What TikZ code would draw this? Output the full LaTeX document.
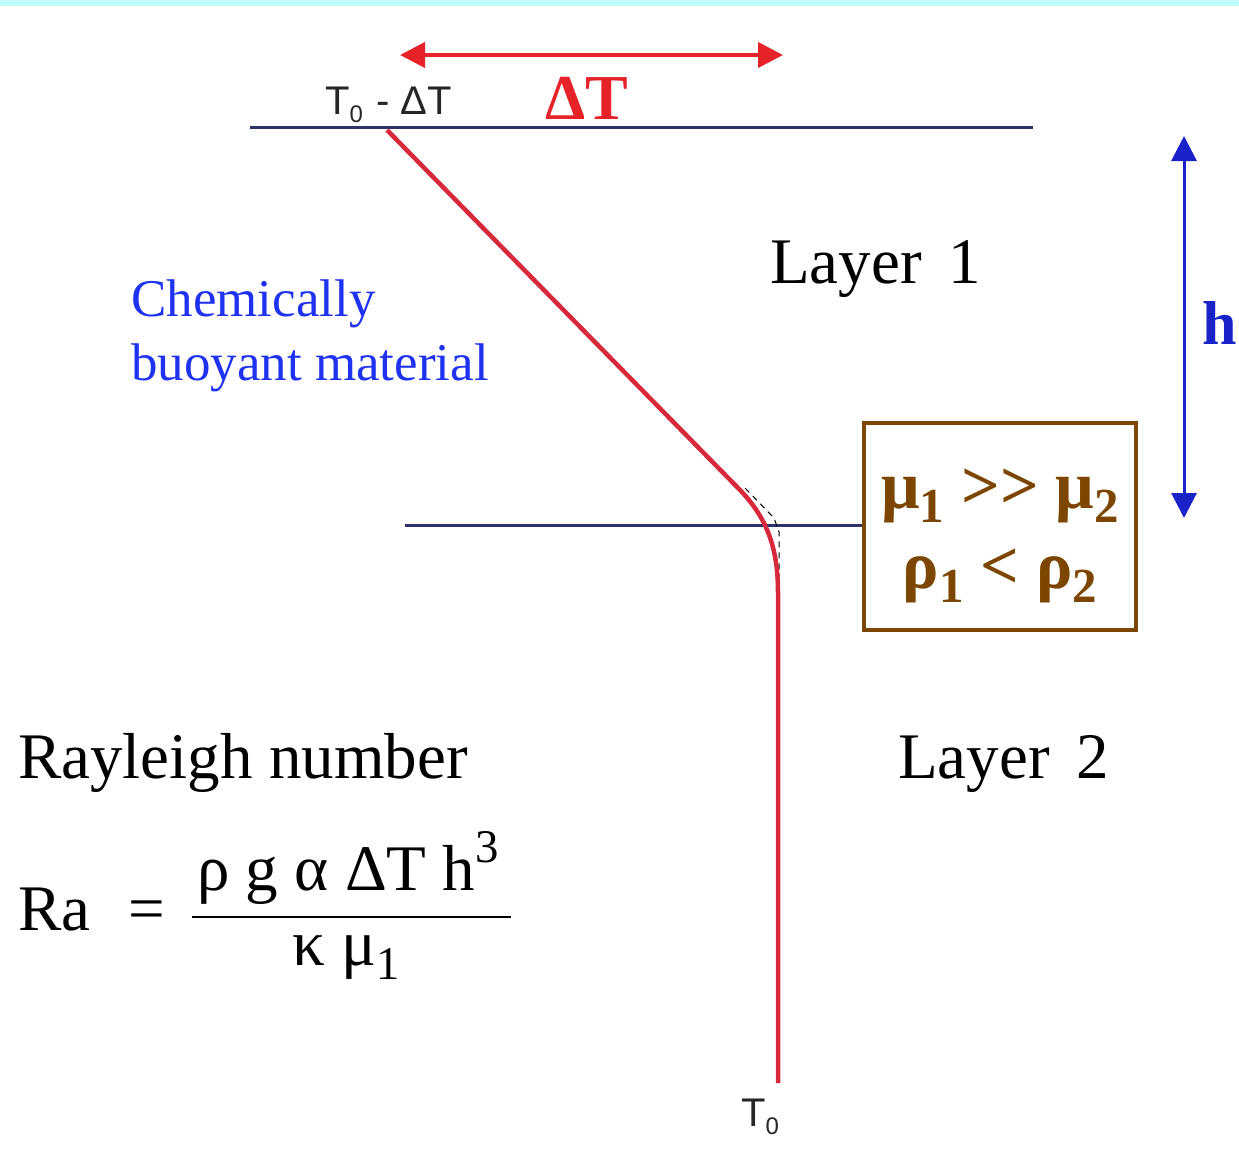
\documentclass[tikz,border=0pt]{standalone}
\usepackage{fontspec}
\setmainfont{Liberation Serif}
\setsansfont{Liberation Sans}
\usepackage{xcolor}
\usetikzlibrary{arrows.meta,positioning}
\definecolor{topband}{RGB}{190,255,255}
\definecolor{boundary}{RGB}{45,50,105}
\definecolor{geotherm}{RGB}{215,40,60}
\definecolor{deltared}{RGB}{230,35,40}
\definecolor{chemblue}{RGB}{30,50,240}
\definecolor{hblue}{RGB}{25,35,200}
\definecolor{visbrown}{RGB}{125,70,0}
\newcommand\lowidx[1]{\raisebox{-0.22em}{\scalebox{0.72}{#1}}}
\newcommand\upidx[1]{\raisebox{0.42em}{\scalebox{0.72}{#1}}}
\newcommand\tidx[1]{\raisebox{-0.2em}{\scalebox{0.6}{#1}}}

\begin{document}
\begin{tikzpicture}[x=1pt, y=-1pt,
    bigtext/.style={font=\fontsize{65}{72}\selectfont, inner sep=0pt, anchor=base west},
    smalltext/.style={font=\sffamily\fontsize{40}{44}\selectfont, inner sep=0pt, anchor=base west, text=black!85},
    boxtext/.style={text=visbrown, font=\bfseries\fontsize{68}{80}\selectfont, inner sep=0pt, anchor=base},
    interface/.style={draw=boundary, line width=3pt},
    dimarrow/.style={{Triangle[length=25pt, width=25pt]}-{Triangle[length=25pt, width=25pt]}}
]
\useasboundingbox (0,0) rectangle (1239,1153);
\fill[topband] (0,0) rectangle (1239,6);

% layer boundaries
\coordinate (top w) at (250,128);
\coordinate (top e) at (1033,128);
\coordinate (mid w) at (405,525);
\draw[interface] (top w) -- (top e);

% viscosity box
\node[draw=visbrown, line width=4pt, minimum width=272pt, minimum height=207pt, inner sep=0pt] (visc) at (1000,526.5) {};
\node[boxtext] (mu) at (1000,508) {μ\lowidx{1} {>}{>} μ\lowidx{2}};
\node[boxtext] (rho) at (1000,588) {ρ\lowidx{1} < ρ\lowidx{2}};
\draw[interface] (mid w) -- (mid w -| visc.west);

% temperature profile
\coordinate (tsurf) at (387,130);
\coordinate (tkink) at (740,490);
\coordinate (tbase) at (778,1083);
\draw[black, line width=1pt, dash pattern=on 6pt off 5pt] (745,488) -- (774,518) -- (779,532) -- (779,598);
\draw[geotherm, line width=4.5pt] (tsurf) -- (tkink)
    .. controls (765,516) and (778,545) .. (778,592) -- (tbase);

\node[smalltext] (tlabel) at (325,115) {T\tidx{0}\,\,- ΔT};
\node[smalltext, below=16pt of tbase, anchor=north, xshift=-18pt] (t0) {T\tidx{0}};

% temperature contrast
\coordinate (dt w) at (400,55);
\coordinate (dt e) at (783,55);
\draw[dimarrow, draw=deltared, fill=deltared, line width=4pt] (dt w) -- (dt e);
\node[text=deltared, font=\bfseries\fontsize{64}{70}\selectfont, inner sep=0pt, anchor=base] (dt) at (587,120) {ΔT};

% layer thickness
\coordinate (h top) at (1184,136);
\coordinate (h bot) at (1184,518);
\draw[dimarrow, draw=hblue, fill=hblue, line width=3pt] (h top) -- (h bot);
\node[text=hblue, font=\bfseries\fontsize{62}{70}\selectfont, inner sep=0pt, anchor=base west] (h) at (1202,344) {h};

% labels
\node[bigtext] (layer1) at (770,283) {Layer\, 1};
\node[bigtext] (layer2) at (898,778) {Layer\, 2};
\node[bigtext, text=chemblue, font=\fontsize{53}{64}\selectfont, align=left, anchor=north west] (chem) at (131,280)
    {Chemically\\buoyant material};
\node[bigtext] (rayleigh) at (18,778) {Rayleigh number};

% Rayleigh formula
\node[bigtext] (ra) at (18,930) {Ra\,\, =};
\node[bigtext, anchor=base] (num) at (348,890) {ρ g α ΔT h\upidx{3}};
\node[bigtext, anchor=base] (den) at (346,965) {κ μ\lowidx{1}};
\draw[black, line width=2.5pt] (192,917) -- (511,917);
\end{tikzpicture}
\end{document}
